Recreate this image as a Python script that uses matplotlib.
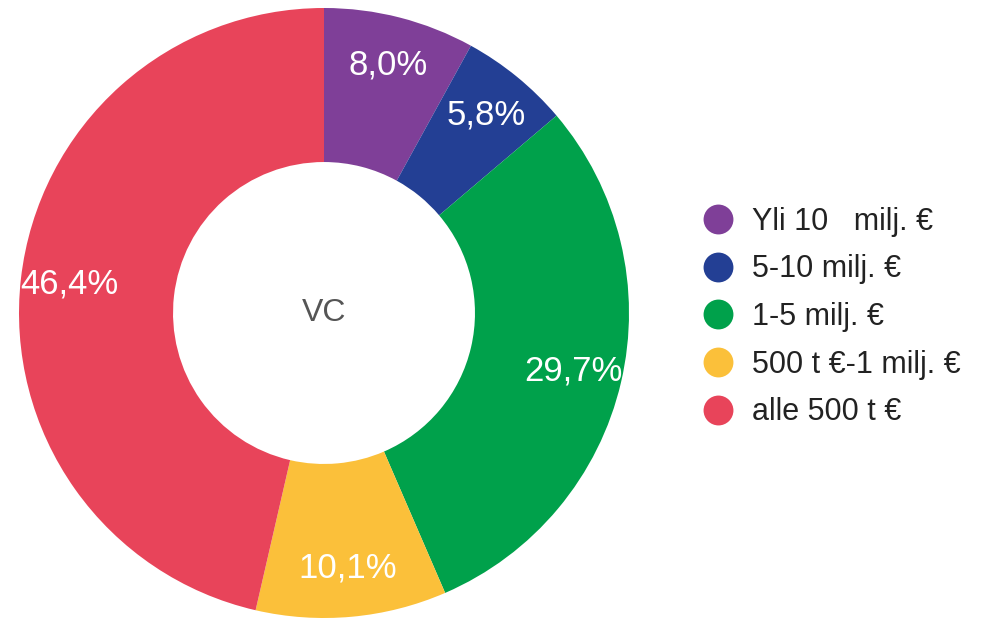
import matplotlib.pyplot as plt
from matplotlib.lines import Line2D

# Donut: VC rounds by size
categories = ['Yli 10   milj. €', '5-10 milj. €', '1-5 milj. €', '500 t €-1 milj. €', 'alle 500 t €']
shares = [8.0, 5.8, 29.7, 10.1, 46.4]
share_labels = ['8,0%', '5,8%', '29,7%', '10,1%', '46,4%']
colors = ['#7F3F98', '#233F94', '#00A14B', '#FBC03A', '#E8445A']
center_text = 'VC'

plt.rcParams['font.family'] = ['Liberation Sans', 'DejaVu Sans']

fig = plt.figure(figsize=(9.83, 6.18), dpi=100)
ax = fig.add_axes([19 / 983, 0.0, 610 / 983, 610 / 618])

wedges, texts = ax.pie(shares, colors=colors, startangle=90, counterclock=False,
                       labels=share_labels, labeldistance=0.84,
                       wedgeprops=dict(width=0.505, edgecolor='none'),
                       textprops=dict(color='white', fontsize=25))
for t in texts:
    t.set_horizontalalignment('center')
    t.set_verticalalignment('center')

ax.text(0, 0, center_text, ha='center', va='center', fontsize=23, color='#555555')
ax.set_xlim(-1, 1)
ax.set_ylim(-1, 1)
ax.set_aspect('equal')

handles = [Line2D([0], [0], marker='o', linestyle='none', markersize=21.5,
                  markerfacecolor=c, markeredgecolor='none') for c in colors]
fig.legend(handles, categories, loc='center left', bbox_to_anchor=(700 / 983, 1 - 317 / 618),
           frameon=False, fontsize=22, labelspacing=0.58, handletextpad=0.55,
           handlelength=1.15, borderpad=0, borderaxespad=0, labelcolor='#222222')

fig.savefig('out.png', dpi=100)
